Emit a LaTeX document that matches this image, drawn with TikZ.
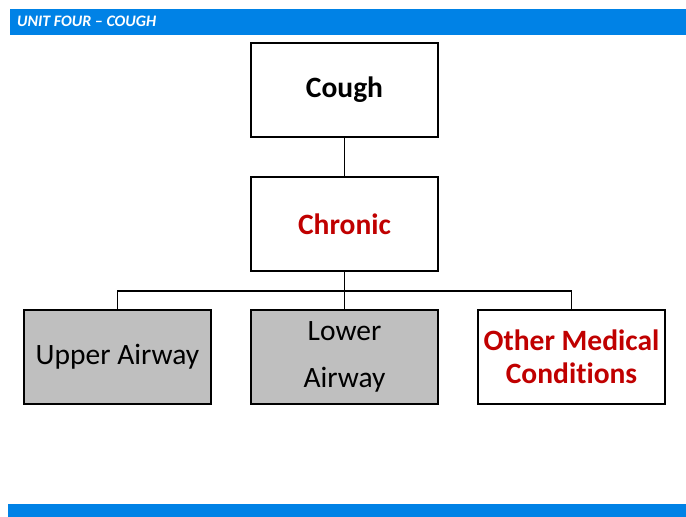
\documentclass[tikz,border=0pt]{standalone}
\usepackage{fontspec}
\setmainfont[Ligatures=NoCommon]{Carlito}
\begin{document}
\begin{tikzpicture}[x=1pt,y=-1pt,
  box/.style={draw=black,line width=1.5pt,minimum width=187pt,minimum height=94pt,inner sep=0pt,align=center,font=\fontsize{29.5}{35}\selectfont},
  graybox/.style={box,fill={rgb,255:red,191;green,191;blue,191}},
  conn/.style={line width=1.5pt},
  redtxt/.style={text={rgb,255:red,192;green,0;blue,0}}]
\useasboundingbox (0,0) rectangle (686,517);
\fill[fill={rgb,255:red,0;green,130;blue,230}] (10,9) rectangle (686,35);
\node[anchor=base west,text=white,inner sep=0pt,font=\fontsize{16}{18}\selectfont\bfseries\itshape] (title) at (17,26.5) {UNIT FOUR – COUGH};
\fill[fill={rgb,255:red,0;green,130;blue,230}] (8,504) rectangle (686,517);
\node[box,font=\fontsize{29.5}{35}\selectfont\bfseries] (cough) at (344.5,90) {Cough};
\node[box,font=\fontsize{29.5}{35}\selectfont\bfseries,redtxt] (chronic) at (344.5,224) {Chronic};
\node[graybox] (upper) at (117.5,357) {Upper Airway};
\node[graybox,font=\fontsize{29.5}{47}\selectfont] (lower) at (344.5,357) {Lower\\Airway};
\node[box,font=\fontsize{29.5}{33}\selectfont\bfseries,redtxt] (other) at (571.5,357) {Other Medical\\Conditions};
\coordinate (j) at (344.5,291);
\draw[conn] (cough) -- (chronic);
\draw[conn] (chronic) -- (j);
\draw[conn] (upper.north) |- (j) -| (other.north);
\draw[conn] (j) -- (lower);
\end{tikzpicture}
\end{document}
